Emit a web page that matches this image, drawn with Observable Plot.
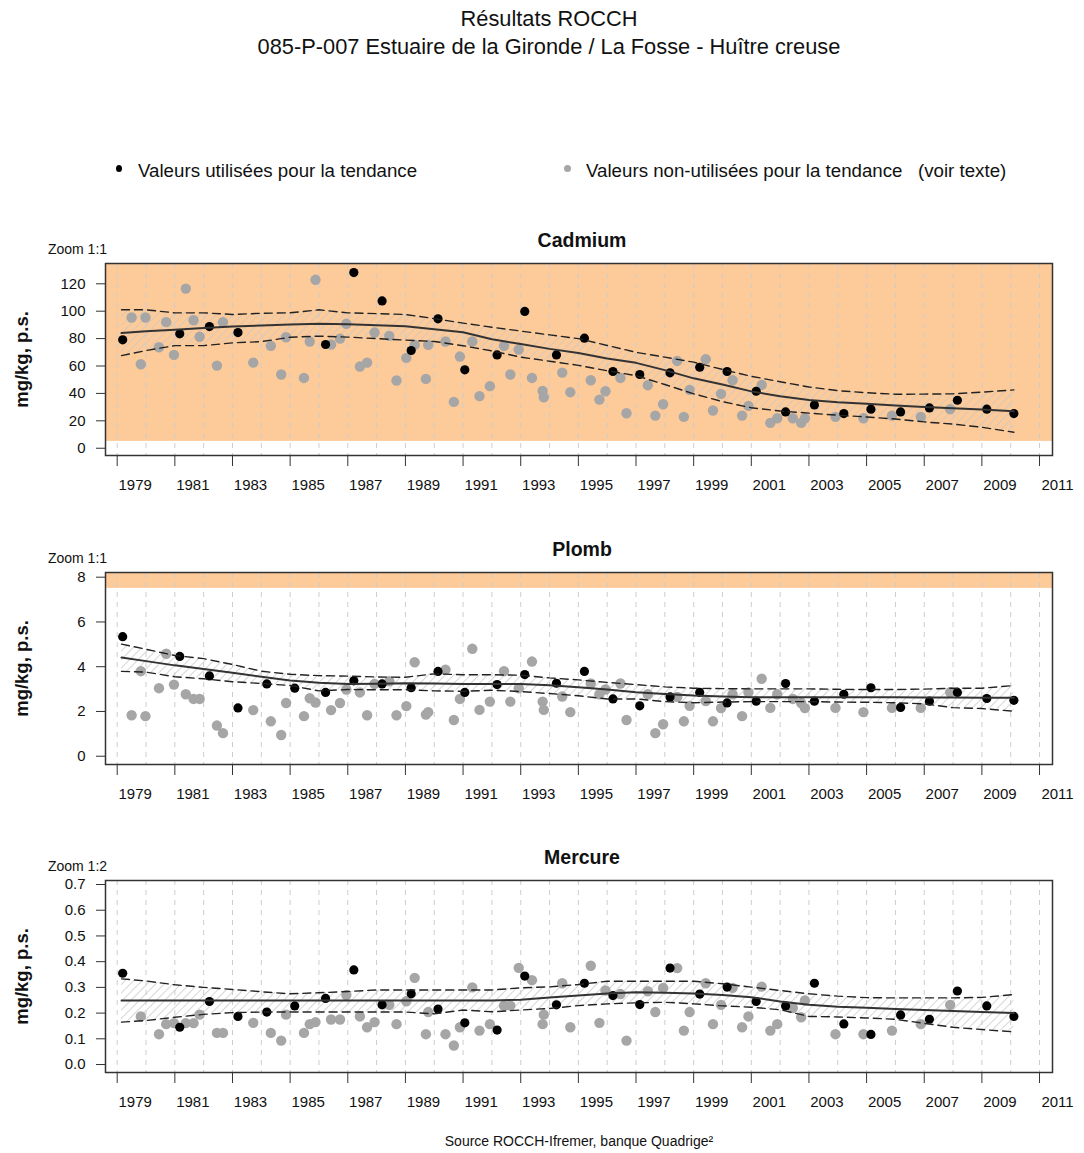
<!DOCTYPE html>
<html><head><meta charset="utf-8">
<script src="https://cdn.jsdelivr.net/npm/d3@7"></script>
<script src="https://cdn.jsdelivr.net/npm/@observablehq/plot@0.6"></script>
<style>
body{margin:0;background:#fff;font-family:"Liberation Sans",Arial,sans-serif;}
#root{position:relative;width:1084px;height:1153px;overflow:hidden;background:#fff;}
.abs{position:absolute;white-space:pre;color:#111;}
.panel{position:absolute;left:0;}
</style></head><body>
<svg width="0" height="0" style="position:absolute">
 <defs>
  <pattern id="hatch" patternUnits="userSpaceOnUse" width="6" height="6" patternTransform="rotate(45)">
   <line x1="0" y1="0" x2="0" y2="6" stroke="#c9c9c9" stroke-width="1.5"/>
  </pattern>
 </defs>
</svg>
<div id="root">
 <div class="abs" style="left:0;width:1098px;top:7px;text-align:center;font-size:21.8px;line-height:24px">Résultats ROCCH</div>
 <div class="abs" style="left:0;width:1098px;top:35px;text-align:center;font-size:21.8px;line-height:24px">085-P-007 Estuaire de la Gironde / La Fosse - Huître creuse</div>
 <div class="abs" style="left:116px;top:165px;width:6px;height:7px;border-radius:50%;background:#000"></div>
 <div class="abs" style="left:138px;top:160px;font-size:18.7px;line-height:22px">Valeurs utilisées pour la tendance</div>
 <div class="abs" style="left:564px;top:165px;width:7px;height:7px;border-radius:50%;background:#a6a6a6"></div>
 <div class="abs" style="left:586px;top:160px;font-size:18.7px;line-height:22px">Valeurs non-utilisées pour la tendance</div>
 <div class="abs" style="left:918px;top:160px;font-size:18.7px;line-height:22px">(voir texte)</div>
 <div class="panel" id="p1" style="top:225px"></div>
 <div class="panel" id="p2" style="top:534px"></div>
 <div class="panel" id="p3" style="top:842px"></div>
 <div class="abs" style="left:0;width:1158px;top:1133px;text-align:center;font-size:14px;line-height:16px">Source ROCCH-Ifremer, banque Quadrige²</div>
</div>
<script>
// ---- sampling dates (decimal years) ----
const usedDates = [1979.19,1981.17,1982.2,1983.19,1984.19,1985.16,1986.23,1987.21,1988.19,1989.2,1990.13,1991.06,1992.18,1993.14,1994.24,1995.21,1996.2,1997.13,1998.18,1999.21,2000.16,2001.17,2002.19,2003.19,2004.21,2005.15,2006.18,2007.18,2008.15,2009.17,2010.11];
const otherDates = [1979.5,1979.82,1979.98,1980.45,1980.7,1980.97,1981.38,1981.65,1981.86,1982.46,1982.67,1983.72,1984.33,1984.69,1984.86,1985.48,1985.68,1985.88,1986.42,1986.73,1986.95,1987.42,1987.67,1987.93,1988.44,1988.69,1989.03,1989.32,1989.71,1989.79,1990.39,1990.68,1990.89,1991.32,1991.57,1991.93,1992.42,1992.64,1992.93,1993.39,1993.76,1993.8,1994.44,1994.72,1995.43,1995.73,1995.94,1996.46,1996.67,1997.41,1997.67,1997.94,1998.43,1998.66,1998.86,1999.42,1999.67,1999.95,2000.35,2000.68,2000.9,2001.36,2001.66,2001.9,2002.44,2002.73,2002.86,2003.92,2004.89,2005.88,2006.88,2007.9];
const trendYears = [1979.15,1980,1981,1982,1983,1984,1985,1986,1987,1988,1989,1990,1991,1992,1993,1994,1995,1996,1997,1998,1999,2000,2001,2002,2003,2004,2005,2006,2007,2008,2009,2010.11];

// ---- Cadmium ----
const cadmiumUsed = [79.1,83.5,88.8,84.4,null,null,75.7,128.2,107.5,71.3,94.4,57.2,68.1,99.8,68.1,80.3,56,53.8,55,59.1,56,41.6,26.5,31.6,25.3,28.5,26.5,29.4,35,28.5,25.3];
const cadmiumOther = [95.4,61.3,95.4,73.7,92,68.1,116.5,93.4,81.3,60.3,92,62.5,74.7,53.8,81,51.3,77.9,122.9,75.7,80,90.8,59.6,62.5,84.4,82,49.4,65.9,75.4,50.6,75.4,77.9,33.8,66.9,77.9,38,45.3,74.7,53.8,72,51.3,41.8,37.2,55.2,40.9,49.6,35.5,41.6,51.3,25.5,46,23.8,32.1,63.7,22.9,42.6,65,27.5,39.7,49.6,23.8,30.9,46.2,18.5,21.9,21.9,18.5,21.9,22.9,21.9,23.8,22.9,28.5];
const cadmiumTrend = [84,85.3,86.5,87.7,88.9,89.5,90.2,90.8,90.5,89.8,89,86.8,84.7,79.5,76,72.5,69.5,65.5,62.3,57,51,46.5,41.5,38,35.2,33.5,32.4,31.1,30,29.2,28.3,27];
const cadmiumUpper = [101,101,98.8,98.8,97.6,98.5,98.8,101,98.8,98.2,97.6,94.6,91.3,88.3,85.5,82.7,80,75,70,66.5,62.8,57.5,52.5,48.5,44.7,42,40.5,39.4,39.5,39.7,40.9,42.6];
const cadmiumLower = [67.6,71.3,74.9,74.9,76.9,77.8,81,81.8,81.1,80,78.9,77.9,74.8,71,66.5,63.5,60.5,56.5,53,46.5,39.7,34,29.5,27.2,25.6,24.1,22.8,21.3,19.2,17.6,15.3,11.7];
const cadmiumTicks = [0,20,40,60,80,100,120];

// ---- Plomb ----
const plombUsed = [5.34,4.46,3.59,2.16,3.23,3.04,2.85,3.37,3.23,3.06,3.79,2.85,3.2,3.65,3.26,3.79,2.56,2.25,2.65,2.85,2.38,2.46,3.25,2.46,2.77,3.06,2.18,2.46,2.85,2.58,2.5];
const plombOther = [1.83,3.8,1.79,3.04,4.58,3.2,2.77,2.56,2.56,1.37,1.03,2.06,1.56,0.95,2.38,1.79,2.59,2.4,2.06,2.38,2.98,2.85,1.83,3.23,3.35,1.83,2.24,4.2,1.86,1.97,3.87,1.62,2.56,4.8,2.07,2.44,3.8,2.44,3.04,4.23,2.44,2.07,2.67,1.97,3.25,2.77,2.98,3.25,1.62,2.77,1.03,1.43,2.65,1.56,2.25,2.46,1.56,2.15,2.77,1.79,2.85,3.46,2.16,2.77,2.56,2.38,2.15,2.16,1.97,2.16,2.16,2.86];
const plombTrend = [4.41,4.25,4.06,3.9,3.73,3.55,3.38,3.28,3.23,3.24,3.26,3.25,3.23,3.23,3.23,3.17,3.08,2.98,2.86,2.78,2.71,2.67,2.64,2.64,2.64,2.64,2.64,2.63,2.62,2.62,2.61,2.61];
const plombUpper = [5.01,4.78,4.5,4.36,4.1,3.8,3.66,3.6,3.58,3.54,3.53,3.68,3.64,3.64,3.62,3.5,3.41,3.3,3.2,3.1,3.04,3.02,3.01,3.01,3.01,2.99,2.98,2.98,3.0,3.04,3.04,3.16];
const plombLower = [3.79,3.76,3.55,3.46,3.33,3.25,3.16,2.92,2.98,2.97,2.97,2.92,2.9,2.95,2.89,2.8,2.7,2.56,2.56,2.44,2.39,2.42,2.44,2.44,2.44,2.42,2.41,2.39,2.34,2.17,2.13,2.01];
const plombTicks = [0,2,4,6,8];

// ---- Mercure ----
const mercureUsed = [0.355,0.145,0.245,0.187,0.204,0.228,0.257,0.368,0.232,0.275,0.216,0.162,0.134,0.344,0.232,0.316,0.268,0.233,0.375,0.274,0.301,0.245,0.228,0.316,0.158,0.117,0.193,0.176,0.286,0.228,0.187];
const mercureOther = [null,0.187,null,0.118,0.157,0.161,0.161,0.161,0.194,0.123,0.123,0.162,0.123,0.093,0.194,0.123,0.157,0.165,0.175,0.175,0.27,0.187,0.145,0.165,0.232,0.157,0.246,0.337,0.118,0.204,0.118,0.074,0.145,0.3,0.132,0.157,0.229,0.229,0.376,0.328,0.157,0.194,0.316,0.145,0.384,0.162,0.288,0.274,0.093,0.285,0.204,0.298,0.375,0.132,0.204,0.316,0.157,0.232,0.298,0.145,0.187,0.303,0.132,0.157,0.22,0.184,0.249,0.118,0.118,0.132,0.157,0.232];
const mercureTrend = [0.249,0.249,0.249,0.249,0.249,0.249,0.249,0.249,0.249,0.249,0.249,0.249,0.249,0.249,0.252,0.261,0.268,0.276,0.281,0.279,0.276,0.27,0.262,0.245,0.232,0.225,0.221,0.216,0.212,0.208,0.204,0.2];
const mercureUpper = [0.333,0.325,0.31,0.3,0.292,0.283,0.275,0.279,0.284,0.29,0.29,0.29,0.29,0.29,0.298,0.302,0.311,0.324,0.324,0.324,0.324,0.314,0.301,0.288,0.275,0.266,0.26,0.259,0.259,0.259,0.261,0.272];
const mercureLower = [0.165,0.171,0.184,0.195,0.202,0.204,0.204,0.204,0.204,0.204,0.204,0.197,0.212,0.205,0.212,0.218,0.229,0.236,0.24,0.242,0.236,0.228,0.223,0.213,0.187,0.185,0.181,0.176,0.16,0.145,0.136,0.127];
const mercureTicks = [0,0.1,0.2,0.3,0.4,0.5,0.6,0.7];

const xTicks = [1979,1981,1983,1985,1987,1989,1991,1993,1995,1997,1999,2001,2003,2005,2007,2009,2011];
const gridYears = [1979,1980,1981,1982,1983,1984,1985,1986,1987,1988,1989,1990,1991,1992,1993,1994,1995,1996,1997,1998,1999,2000,2001,2002,2003,2004,2005,2006,2007,2008,2009,2010,2011];
const X0 = 1978.594, X1 = 2011.45;

function makePanel({name, zoom, yDomain, yTicks, yFormat, used, other, trend, upper, lower, alertFrom}) {
  const pts = (dates, vals) => dates.map((d, i) => ({x: d, y: vals[i]})).filter(d => d.y != null);
  const band = trendYears.map((d, i) => ({x: d, t: trend[i], hi: upper[i], lo: lower[i]}));
  const alert = alertFrom == null ? [] : [alertFrom];
  return Plot.plot({
    width: 1084, height: 275,
    marginLeft: 105, marginRight: 32, marginTop: 38, marginBottom: 45,
    x: {domain: [X0, X1]},
    y: {domain: yDomain},
    style: {fontFamily: '"Liberation Sans", Arial, sans-serif', fontSize: "15px", color: "#111", background: "transparent", overflow: "visible"},
    marks: [
      Plot.rect(alert, {x1: X0, x2: X1, y1: d => d, y2: yDomain[1], fill: "#fdca99"}),
      Plot.ruleX(gridYears, {x: d => d, stroke: "#cdcdcd", strokeWidth: 1, strokeDasharray: "5,5"}),
      Plot.areaY(band, {x: "x", y1: "lo", y2: "hi", fill: "url(#hatch)"}),
      Plot.dot(pts(otherDates, other), {x: "x", y: "y", r: 5.2, fill: "#a6a6a6"}),
      Plot.dot(pts(usedDates, used), {x: "x", y: "y", r: 4.6, fill: "#000"}),
      Plot.line(band, {x: "x", y: "hi", stroke: "#222", strokeWidth: 1.4, strokeDasharray: "8,5"}),
      Plot.line(band, {x: "x", y: "lo", stroke: "#222", strokeWidth: 1.4, strokeDasharray: "8,5"}),
      Plot.line(band, {x: "x", y: "t", stroke: "#333", strokeWidth: 2}),
      Plot.frame({stroke: "#333", strokeWidth: 1.5}),
      Plot.axisY(yTicks, {tickSize: 9, tickPadding: 11, tickFormat: yFormat, label: null, stroke: "#333"}),
      Plot.axisX(xTicks, {tickSize: 11, tickFormat: () => "", label: null, stroke: "#333"}),
      Plot.axisX(xTicks, {tickSize: 0, tickPadding: 24, dx: 18, tickFormat: d => String(d), label: null}),
      Plot.text([name], {frameAnchor: "top", dx: 3, dy: -23, fontWeight: "bold", fontSize: 19.5, textAnchor: "middle", lineAnchor: "middle"}),
      Plot.text([zoom], {frameAnchor: "top-left", dx: -28, dy: -14, fontSize: 14, textAnchor: "middle", lineAnchor: "middle"}),
      Plot.text(["mg/kg, p.s."], {frameAnchor: "left", dx: -83, rotate: -90, textAnchor: "middle", lineAnchor: "middle", fontWeight: "bold", fontSize: 18.5})
    ]
  });
}

document.getElementById("p1").append(makePanel({
  name: "Cadmium", zoom: "Zoom 1:1", yDomain: [-5.3, 134.8], yTicks: cadmiumTicks, yFormat: d => String(d),
  used: cadmiumUsed, other: cadmiumOther, trend: cadmiumTrend, upper: cadmiumUpper, lower: cadmiumLower, alertFrom: 5
}));
document.getElementById("p2").append(makePanel({
  name: "Plomb", zoom: "Zoom 1:1", yDomain: [-0.37, 8.21], yTicks: plombTicks, yFormat: d => String(d),
  used: plombUsed, other: plombOther, trend: plombTrend, upper: plombUpper, lower: plombLower, alertFrom: 7.5
}));
document.getElementById("p3").append(makePanel({
  name: "Mercure", zoom: "Zoom 1:2", yDomain: [-0.031, 0.7156], yTicks: mercureTicks, yFormat: d => d.toFixed(1),
  used: mercureUsed, other: mercureOther, trend: mercureTrend, upper: mercureUpper, lower: mercureLower, alertFrom: null
}));
</script>
</body></html>
